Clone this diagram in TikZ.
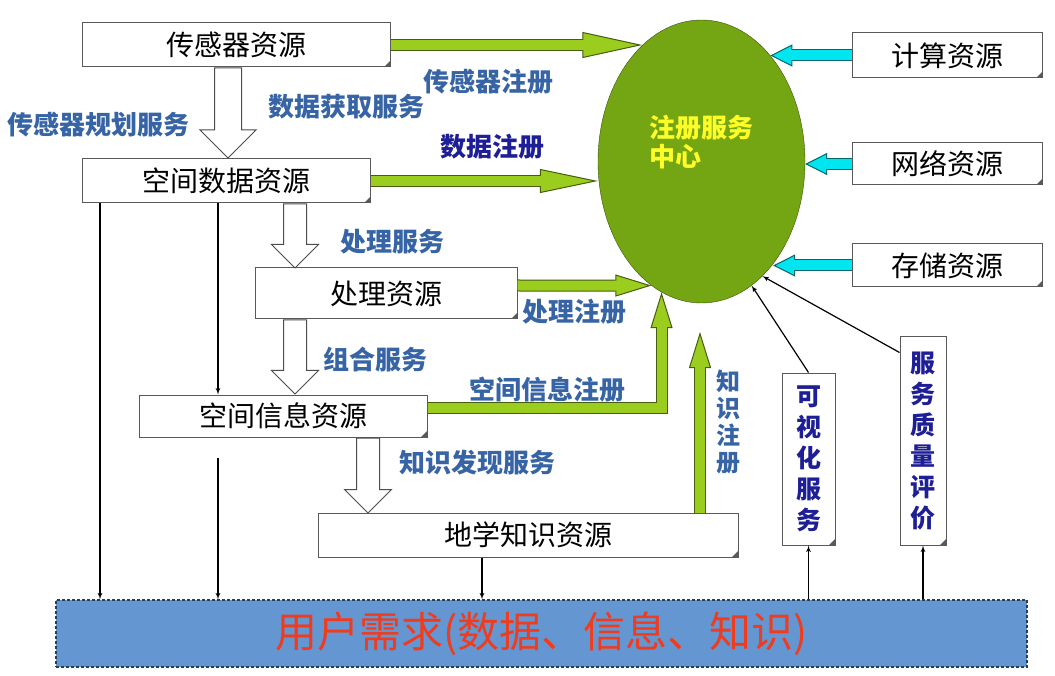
\documentclass[tikz,border=0pt]{standalone}
\usepackage{fontspec}
\usepackage{xcolor}
\usepackage{tikz}
\usetikzlibrary{shapes,arrows,arrows.meta,positioning,calc}
\newfontfamily\cjk{Noto Sans CJK SC}
\definecolor{labelblue}{RGB}{55,100,165}
\definecolor{navyblue}{RGB}{30,30,150}
\definecolor{hubgreen}{RGB}{116,166,20}
\definecolor{limegreen}{RGB}{155,205,30}
\definecolor{arrowcyan}{RGB}{0,230,240}
\definecolor{bandblue}{RGB}{100,150,210}
\definecolor{demandred}{RGB}{240,60,30}
\definecolor{hubyellow}{RGB}{255,255,40}
\newcommand{\fsz}[1]{\fontsize{#1}{#1}\selectfont}
\tikzset{
  res/.style={draw=black!65,line width=1pt,fill=white,inner sep=0pt,font=\cjk\fsz{28},path picture={\fill[black!65] (path picture bounding box.south east) -- ++(-6pt,0pt) -- ++(6pt,6pt) -- cycle;}},
  lbl/.style={font=\cjk\bfseries\fsz{26},text=labelblue,inner sep=0pt},
  vres/.style={res,align=center,font=\cjk\bfseries\fontsize{25}{31}\selectfont,text=navyblue},
  hollow/.style={single arrow,draw=black!70,line width=1pt,fill=white,rotate=-90,anchor=tail,inner xsep=0pt,inner ysep=11pt,single arrow head extend=12pt,minimum width=0pt},
  fat/.style n args={3}{line width=12pt,draw=#1!45!black,line join=miter,-{Triangle[length=#2pt,width=#3pt,line width=1pt,fill=#1]},postaction={draw=#1,line width=10pt,-,shorten >=#2pt-3pt}},
  thinarr/.style={->,line width=1.2pt}
}
\begin{document}
\begin{tikzpicture}[x=1pt,y=-1pt,>=latex']
\useasboundingbox (0,0) rectangle (1055,676);
\fill[white] (0,0) rectangle (1055,676);
\node[res,minimum width=308pt,minimum height=44pt] (sensor) at (236,45) {传感器资源};
\node[res,minimum width=288pt,minimum height=44pt] (spdata) at (226,181) {空间数据资源};
\node[res,minimum width=262pt,minimum height=51pt] (proc) at (386,293.5) {处理资源};
\node[res,minimum width=288pt,minimum height=42pt] (spinfo) at (283,416) {空间信息资源};
\node[res,minimum width=420pt,minimum height=44pt] (geoknow) at (528,535) {地学知识资源};
\node[ellipse,draw=hubgreen!50!black,fill=hubgreen,minimum width=207pt,minimum height=283pt,inner sep=0pt] (hub) at (701.5,161.5) {};
\node[font=\cjk\bfseries\fontsize{26}{29}\selectfont,text=hubyellow,align=left,inner sep=0pt] (hubtxt) at ([yshift=19pt]hub.center) {注册服务\\中心};
\node[res,minimum width=190pt,minimum height=45pt] (compute) at (947,55.5) {计算资源};
\node[res,minimum width=190pt,minimum height=42pt,below=64pt of compute] (network) {网络资源};
\node[res,minimum width=190pt,minimum height=43pt,below=58pt of network] (storage) {存储资源};
\node[vres,minimum width=53pt,minimum height=172pt] (visual) at (808.5,459) {可\\视\\化\\服\\务};
\node[vres,minimum width=46pt,minimum height=208pt] (qos) at (923,441) {服\\务\\质\\量\\评\\价};
\node[draw=bandblue!40!black,densely dashed,line width=1.2pt,fill=bandblue,minimum width=971pt,minimum height=67pt,inner sep=0pt,font=\cjk\fsz{42},text=demandred] (demand) at (541.5,633.5) {用户需求(数据、信息、知识)};
\node[hollow,minimum height=90pt,inner ysep=13pt,single arrow head extend=14.5pt] (dataget) at ([xshift=-8pt]sensor.south) {};
\node[hollow,minimum height=64pt] (procsvc) at ([xshift=69pt]spdata.south) {};
\node[hollow,minimum height=74pt] (compsvc) at ([xshift=-91pt]proc.south) {};
\node[hollow,minimum height=75pt] (kdsvc) at ([xshift=85pt]spinfo.south) {};
\draw[fat={limegreen}{60}{26}] (sensor.east) -- (hub.117 |- sensor.east);
\draw[fat={limegreen}{58}{24}] (spdata.east) -- (hub.west |- spdata.east);
\draw[fat={limegreen}{36}{22}] ([yshift=8pt]proc.east) -- (hub.-112);
\draw[fat={limegreen}{36}{22}] ([yshift=8pt]spinfo.east) -| (hub.-107);
\coordinate (knowtip) at (700,332);
\draw[fat={limegreen}{36}{22}] (knowtip |- geoknow.north) -- (knowtip);
\draw[fat={arrowcyan}{22}{22}] (compute.west) -- (hub.57 |- compute.west);
\draw[fat={arrowcyan}{22}{22}] (network.west) -- (hub.east |- network.west);
\draw[fat={arrowcyan}{22}{22}] (storage.west) -- (hub.-55 |- storage.west);
\coordinate (l1) at ([xshift=-126pt]spdata.south);
\coordinate (l2) at ([xshift=-8pt]spdata.south);
\coordinate (l3) at (218,458);
\coordinate (l4) at ([xshift=-46pt]geoknow.south);
\draw[thinarr] (l1) -- (l1 |- demand.north);
\draw[thinarr] (l2) -- (l2 |- spinfo.north);
\draw[thinarr] (l3) -- (l3 |- demand.north);
\draw[thinarr] (l4) -- (l4 |- demand.north);
\draw[thinarr] (visual.south |- demand.north) -- (visual.south);
\draw[thinarr] (qos.south |- demand.north) -- (qos.south);
\draw[thinarr] (visual.north) -- (hub.-68);
\draw[thinarr] ([yshift=-16pt]qos.north west) -- (hub.-62);
\node[lbl] (sensorreg) at (488,82) {传感器注册};
\node[lbl] (datagetlbl) at (346,107) {数据获取服务};
\node[lbl] (plansvc) at (98,125) {传感器规划服务};
\node[lbl,text=navyblue] (datareg) at (492,147) {数据注册};
\node[lbl] (proclbl) at (392,242) {处理服务};
\node[lbl] (procreg) at (574,312) {处理注册};
\node[lbl] (complbl) at (375,360) {组合服务};
\node[lbl] (inforeg) at (547,390) {空间信息注册};
\node[lbl] (kdlbl) at (477,463) {知识发现服务};
\node[lbl,align=center,font=\cjk\bfseries\fontsize{24}{27}\selectfont] (knowreg) at (728,422) {知\\识\\注\\册};
\end{tikzpicture}
\end{document}
